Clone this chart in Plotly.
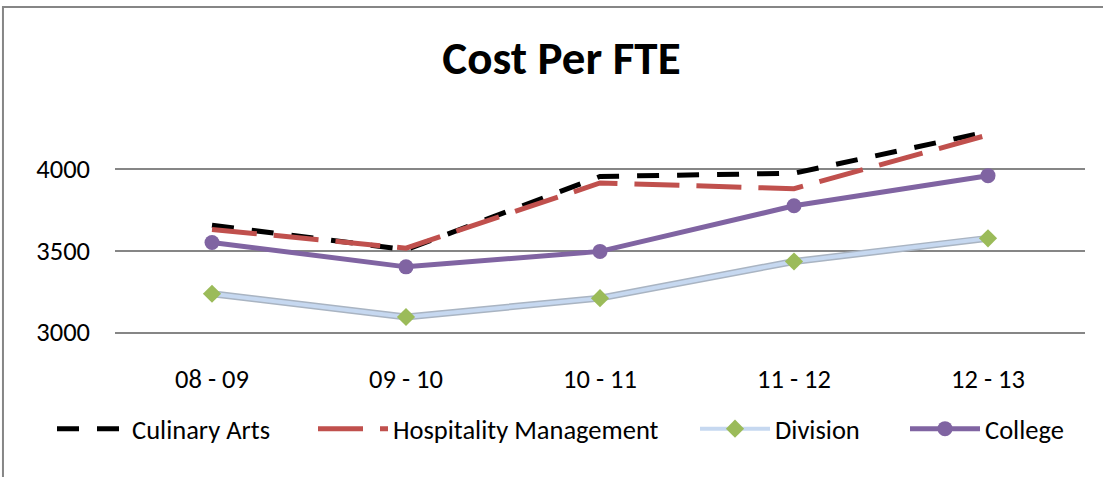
import plotly.graph_objects as go

categories = ["08 - 09", "09 - 10", "10 - 11", "11 - 12", "12 - 13"]
culinary_arts = [3655, 3505, 3955, 3975, 4230]
hospitality_mgmt = [3630, 3515, 3915, 3880, 4210]
division = [3235, 3092, 3208, 3433, 3575]
college = [3550, 3400, 3495, 3775, 3960]
y_ticks = [3000, 3500, 4000]

FONT = "Carlito, Lato, sans-serif"
FS = 26.5

fig = go.Figure()
fig.add_trace(go.Scatter(
    x=categories, y=culinary_arts, name="Culinary Arts", mode="lines",
    legend="legend",
    line=dict(color="#000000", width=5, dash="22px,18px")))
fig.add_trace(go.Scatter(
    x=categories, y=hospitality_mgmt, name="Hospitality Management", mode="lines",
    legend="legend2",
    line=dict(color="#C0504D", width=5, dash="45px,17px")))
# Division: outlined light-blue line
fig.add_trace(go.Scatter(
    x=categories, y=division, name="Division", mode="lines", showlegend=False,
    hoverinfo="skip", line=dict(color="#A9B4C2", width=7)))
fig.add_trace(go.Scatter(
    x=categories, y=division, name="Division", mode="lines+markers",
    legend="legend3",
    line=dict(color="#C6D8F0", width=4),
    marker=dict(symbol="diamond", size=14, color="#9BBB59")))
fig.add_trace(go.Scatter(
    x=categories, y=college, name="College", mode="lines+markers",
    legend="legend4",
    line=dict(color="#8064A2", width=5),
    marker=dict(symbol="circle", size=15, color="#8064A2")))

def leg(xpix):
    return dict(orientation="h", x=(xpix - 115) / 970, xanchor="left",
                y=-0.425, yanchor="middle", font=dict(family=FONT, size=FS),
                itemwidth=70, bgcolor="rgba(0,0,0,0)")

fig.update_layout(
    width=1103, height=477,
    margin=dict(l=115, r=18, t=104, b=145),
    paper_bgcolor="white", plot_bgcolor="white",
    font=dict(family=FONT, size=FS, color="#000000"),
    title=dict(text="<b>Cost Per FTE</b>", x=0.509, xanchor="center",
               y=0.880, yanchor="middle", yref="container",
               font=dict(family=FONT, size=47, color="#000000")),
    xaxis=dict(showgrid=False, showline=True, linecolor="#868686", linewidth=2,
               zeroline=False, range=[-0.5, 4.5], automargin=False,
               ticks="", ticklabelstandoff=22,
               tickfont=dict(family=FONT, size=FS)),
    yaxis=dict(range=[3000, 4400], tickvals=y_ticks, showgrid=True,
               gridcolor="#868686", gridwidth=2, zeroline=False, automargin=False,
               showline=False, ticks="", ticklabelstandoff=24,
               tickfont=dict(family=FONT, size=FS)),
    legend=leg(52),
    legend2=leg(313),
    legend3=leg(695),
    legend4=leg(905),
    showlegend=True,
)

# chart border (Excel chart area outline)
fig.add_shape(type="rect", xref="paper", yref="paper",
              x0=-0.1155, y0=-1.5, x1=1.3, y1=1.4255,
              line=dict(color="#868686", width=2), fillcolor="rgba(0,0,0,0)",
              layer="above")

fig.write_html("out.html", config={"displayModeBar": False},
               post_script="document.body.style.margin='0px';document.body.style.overflow='hidden';")
